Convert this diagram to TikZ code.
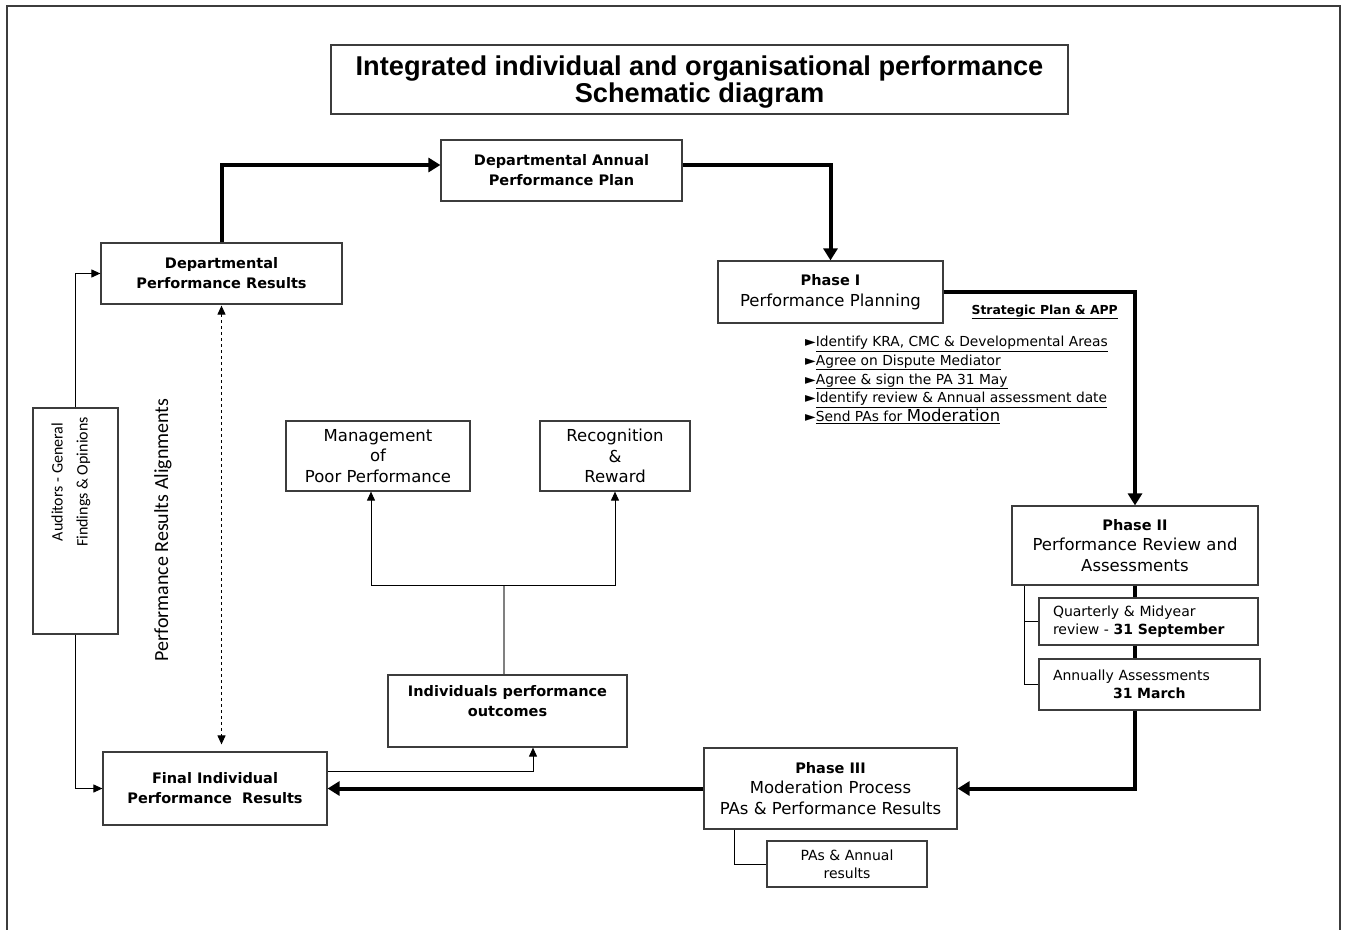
\documentclass[tikz,border=0pt]{standalone}
\usepackage{fontspec}
\setmainfont{DejaVu Sans}
\newfontfamily\titlefont{Liberation Sans}
\newfontfamily\calfont{Carlito}
\usepackage{graphicx}
\usepackage{tikz}
\usetikzlibrary{arrows.meta, positioning, calc}
\definecolor{boxline}{RGB}{60, 60, 60}
\definecolor{stemgray}{RGB}{128, 128, 128}
\newcommand{\hd}[1]{{\fontsize{14.5}{20}\bfseries #1}}

\begin{document}
\begin{tikzpicture}[x=1pt, y=-1pt,
  box/.style={draw=boxline, line width=1.2pt, fill=white, align=center, inner sep=0pt, font=\fontsize{16.5}{20.5}\selectfont},
  bbox/.style={box, font=\fontsize{14.5}{20}\selectfont\bfseries},
  smallbox/.style={box, font=\fontsize{14}{18}\selectfont},
  mainflow/.style={line width=4pt, -{Triangle[length=12pt, width=14pt]}},
  mainline/.style={line width=4pt},
  thinflow/.style={line width=1pt, -{Triangle[length=9pt, width=8pt]}},
  thinline/.style={line width=1pt}
]
  \useasboundingbox (0,0) rectangle (1346,929);
  \draw[line width=1.2pt, boxline] (7,935) -- (7,6) -- (1340,6) -- (1340,935);

  \node[box, minimum width=737pt, minimum height=69pt] (title) at (699.5,79.5) {};
  \node[font=\titlefont\fontsize{27.2}{27}\selectfont\bfseries, align=center, inner sep=0pt] (titletext) at (699.5,82.5)
    {Integrated individual and organisational performance\\Schematic diagram};

  \node[bbox, minimum width=241pt, minimum height=61pt] (plan) at (561.5,170.5)
    {Departmental Annual\\Performance Plan};
  \node[bbox, minimum width=241pt, minimum height=61pt] (deptres) at (221.5,273.5)
    {Departmental\\Performance Results};
  \node[box, minimum width=225pt, minimum height=62pt] (phaseI) at (830.5,292)
    {\hd{Phase I}\\Performance Planning};
  \node[box, minimum width=246pt, minimum height=79pt] (phaseII) at (1135,545.5)
    {\hd{Phase II}\\Performance Review and\\Assessments};
  \node[smallbox, minimum width=219pt, minimum height=47pt, text width=191pt, align=left, inner xsep=14pt] (quart) at (1148.5,621.5)
    {Quarterly \& Midyear\\review - \textbf{31 September}};
  \node[smallbox, minimum width=221pt, minimum height=51pt, text width=193pt, align=left, inner xsep=14pt] (annual) at (1149.5,684.5)
    {Annually Assessments\\\hspace*{60pt}\textbf{31 March}};
  \node[box, minimum width=253pt, minimum height=81pt] (phaseIII) at (830.5,788.5)
    {\hd{Phase III}\\Moderation Process\\PAs \& Performance Results};
  \node[smallbox, minimum width=160pt, minimum height=46pt] (pas) at (847,864)
    {PAs \& Annual\\results};
  \node[bbox, minimum width=224pt, minimum height=73pt] (final) at (215,788.5)
    {Final Individual\\Performance~~Results};
  \node[bbox, minimum width=239pt, minimum height=72pt] (indiv) at (507.5,711)
    {Individuals performance\\outcomes\\~};
  \node[box, minimum width=184pt, minimum height=70pt] (mgmt) at (378,456)
    {Management\\of\\Poor Performance};
  \node[box, minimum width=150pt, minimum height=70pt] (recog) at (615,456)
    {Recognition\\\&\\Reward};
  \node[box, minimum width=85pt, minimum height=226pt] (auditors) at (75.5,521) {};
  \node[font=\calfont\fontsize{16}{25}\selectfont, rotate=90, align=center, inner sep=0pt] (audtext) at (71,482)
    {Auditors - General\\Findings \& Opinions};
  \node[font=\calfont\fontsize{20}{24}\selectfont, rotate=90] (align) at (163,530)
    {Performance Results Alignments};

  \node[font=\fontsize{12.4}{15}\selectfont\bfseries, anchor=east, inner sep=0pt] (strat) at (1118,312)
    {\underline{Strategic Plan \& APP}};
  \node[font=\fontsize{13.8}{18.7}\selectfont, anchor=north west, align=left, inner sep=0pt] (tasks) at (805,336)
    {►\underline{Identify KRA, CMC \& Developmental Areas}\\
     ►\underline{Agree on Dispute Mediator}\\
     ►\underline{Agree \& sign the PA 31 May}\\
     ►\underline{Identify review \& Annual assessment date}\\
     ►\underline{Send PAs for {\fontsize{16.5}{18.7}\selectfont Moderation}}};

  \draw[mainflow] (deptres.north) |- ([yshift=5.5pt]plan.west);
  \draw[mainflow] ([yshift=5.5pt]plan.east) -| (phaseI.north);
  \draw[mainflow] (phaseI.east) -| (phaseII.north);
  \draw[mainline] (phaseII.south) -- (phaseII.south |- quart.north);
  \draw[mainline] (phaseII.south |- quart.south) -- (phaseII.south |- annual.north);
  \draw[mainflow] (phaseII.south |- annual.south) |- (phaseIII.east);
  \draw[mainflow] (phaseIII.west) -- (final.east);

  \draw[thinflow] (auditors.north) |- (deptres.west);
  \draw[thinflow] (auditors.south) |- (final.west);
  \draw[thinline, dashed, {Triangle[length=9pt, width=8pt]}-{Triangle[length=9pt, width=8pt]}, shorten <=1pt, shorten >=7pt]
    (deptres.south) -- (deptres.south |- final.north);
  \draw[thinflow] ([yshift=17.5pt]final.east) -| ([xshift=25.5pt]indiv.south);

  \coordinate (fork) at (504,585);
  \draw[line width=1.8pt, stemgray] (indiv.north -| fork) -- (fork);
  \draw[thinflow] (fork) -| ([xshift=-7pt]mgmt.south);
  \draw[thinflow] (fork) -| (recog.south);

  \draw[thinline] ([xshift=13pt]phaseII.south west) |- (annual.west);
  \draw[thinline] ([xshift=13pt]phaseII.south west |- quart.west) -- (quart.west);
  \draw[thinline] ([xshift=31pt]phaseIII.south west) |- (pas.west);
\end{tikzpicture}
\end{document}
